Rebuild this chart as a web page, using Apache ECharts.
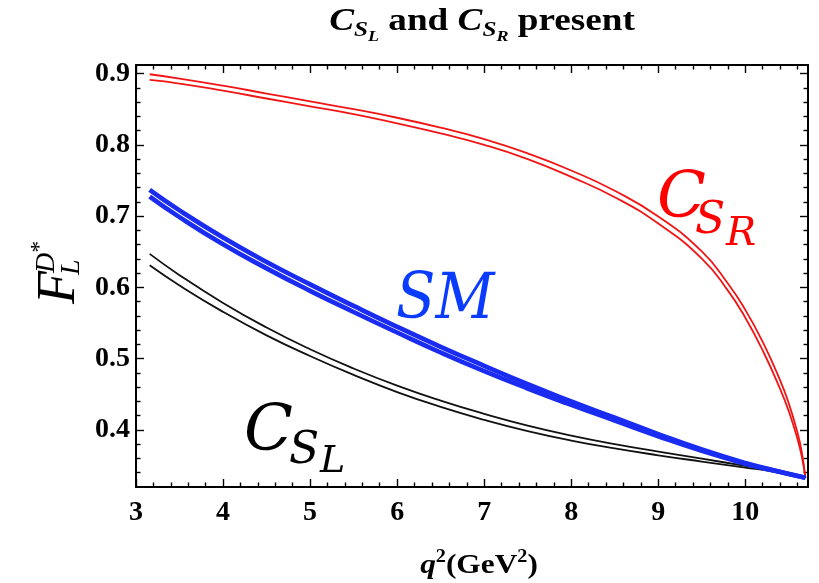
<!DOCTYPE html>
<html>
<head>
<meta charset="utf-8">
<script src="https://cdn.jsdelivr.net/npm/echarts@6/dist/echarts.min.js"></script>
<style>
  html, body { margin: 0; padding: 0; background: #fff; }
  #chart { width: 819px; height: 583px; }
</style>
</head>
<body>
<div id="chart"></div>
<script>
// q^2 sampling points (GeV^2) for the C_SR curves (denser near q^2_max)
const qRed = [3.157, 3.5, 4, 4.5, 5, 5.5, 6, 6.5, 7, 7.5, 8, 8.5, 9, 9.5, 9.8, 10, 10.2, 10.4, 10.5, 10.6, 10.65, 10.69];
const cSRUpper = [0.899, 0.893, 0.883, 0.872, 0.861, 0.850, 0.838, 0.824, 0.808, 0.788, 0.764, 0.7355, 0.6995, 0.6505, 0.6055, 0.5685, 0.5235, 0.4695, 0.437, 0.396, 0.368, 0.333];
const cSRLower = [0.891, 0.886, 0.876, 0.865, 0.854, 0.843, 0.830, 0.816, 0.800, 0.780, 0.755, 0.7265, 0.6895, 0.6405, 0.5955, 0.5575, 0.5115, 0.4575, 0.426, 0.387, 0.362, 0.333];

// q^2 sampling points for the C_SL and SM curves
const qGrid = [3.157, 3.5, 4, 4.5, 5, 5.5, 6, 6.5, 7, 7.5, 8, 8.5, 9, 9.5, 10, 10.3, 10.69];
const cSLUpper = [0.647, 0.6172, 0.5782, 0.5437, 0.5132, 0.4862, 0.4622, 0.4412, 0.4227, 0.4062, 0.3922, 0.3802, 0.3697, 0.3597, 0.3497, 0.3434, 0.333];
const cSLLower = [0.631, 0.6027, 0.5657, 0.5327, 0.5037, 0.4772, 0.4532, 0.4324, 0.4142, 0.3984, 0.3852, 0.3742, 0.3645, 0.3557, 0.3472, 0.3419, 0.333];
const smUpper = [0.7368, 0.7080, 0.6700, 0.6357, 0.6042, 0.5740, 0.5447, 0.5167, 0.4900, 0.4642, 0.4402, 0.4172, 0.3942, 0.3727, 0.3537, 0.3442, 0.333];
const smLower = [0.7273, 0.6985, 0.6605, 0.6267, 0.5952, 0.5655, 0.5367, 0.5087, 0.4825, 0.4582, 0.4352, 0.4132, 0.3912, 0.3707, 0.3527, 0.3437, 0.333];

// axis ticks
const xMajorTicks = [3, 4, 5, 6, 7, 8, 9, 10];
const yMajorTicks = [0.4, 0.5, 0.6, 0.7, 0.8, 0.9];
const X_MIN = 3, X_MAX = 10.72, Y_MIN = 0.32, Y_MAX = 0.912;

const xMinorTicks = [];
for (let i = 16; i <= 53; i++) { if (i % 5 !== 0) xMinorTicks.push(+(i * 0.2).toFixed(2)); }
const yMinorTicks = [];
for (let i = 17; i <= 45; i++) { if (i % 5 !== 0) yMinorTicks.push(+(i * 0.02).toFixed(2)); }

const SERIF = "'Liberation Serif', 'Times New Roman', serif";
const MATH = "'DejaVu Serif', serif";

const zip = (xs, ys) => xs.map((x, i) => [x, ys[i]]);

function lineSeries(name, xs, ys, color, width, z) {
  return {
    name, type: 'line', data: zip(xs, ys), xAxisIndex: 0, yAxisIndex: 0,
    smooth: 0.5, symbol: 'none', silent: true,
    lineStyle: { color, width }, z
  };
}

function xAxisDef(position, ticks, len, withLine, withLabels) {
  return {
    type: 'value', position, min: X_MIN, max: X_MAX,
    axisLine: { show: withLine, onZero: false, lineStyle: { color: '#000', width: 2 } },
    axisTick: { show: true, inside: true, length: len, customValues: ticks, lineStyle: { color: '#000', width: 1.4 } },
    axisLabel: withLabels
      ? { show: true, customValues: ticks, margin: 12, color: '#000', fontFamily: SERIF, fontWeight: 'bold', fontSize: 28,
          formatter: v => String(Math.round(v)) }
      : { show: false },
    splitLine: { show: false }
  };
}
function yAxisDef(position, ticks, len, withLine, withLabels) {
  return {
    type: 'value', position, min: Y_MIN, max: Y_MAX,
    axisLine: { show: withLine, onZero: false, lineStyle: { color: '#000', width: 2 } },
    axisTick: { show: true, inside: true, length: len, customValues: ticks, lineStyle: { color: '#000', width: 1.4 } },
    axisLabel: withLabels
      ? { show: true, customValues: ticks, margin: 6, color: '#000', fontFamily: SERIF, fontWeight: 'bold', fontSize: 28,
          formatter: v => v.toFixed(1) }
      : { show: false },
    splitLine: { show: false }
  };
}

// ---- text runs with sub/superscripts, laid out from measured widths ----
const mctx = document.createElement('canvas').getContext('2d');
const fontOf = p => `${p.style || 'normal'} ${p.weight || 'normal'} ${p.size}px ${p.family}`;
const widthOf = p => { mctx.font = fontOf(p); return mctx.measureText(p.t).width; };

function textEl(p, x, baseline) {
  return {
    type: 'text', x, y: baseline + (p.dy || 0) - 0.34 * p.size, silent: true,
    style: { text: p.t, font: fontOf(p), fill: p.color || '#000', textAlign: 'left',
             textVerticalAlign: 'middle', verticalAlign: 'middle' }
  };
}
// a horizontally centred run, optionally widened with scaleX
function centredRun(pieces, cx, baseline, scaleX) {
  const ws = pieces.map(p => widthOf(p));
  const total = ws.reduce((a, b) => a + b, 0);
  let x = -total / 2;
  const children = pieces.map((p, i) => { const el = textEl(p, x, baseline); x += ws[i]; return el; });
  return { type: 'group', x: cx, y: 0, scaleX: scaleX || 1, silent: true, children };
}

const B = { family: SERIF, weight: 'bold' };
const titleRun = centredRun([
  { ...B, t: 'C', size: 31, style: 'italic' },
  { ...B, t: 'S', size: 21, style: 'italic', dy: 5 },
  { ...B, t: 'L', size: 15, style: 'italic', dy: 9 },
  { ...B, t: ' and ', size: 31 },
  { ...B, t: 'C', size: 31, style: 'italic' },
  { ...B, t: 'S', size: 21, style: 'italic', dy: 5 },
  { ...B, t: 'R', size: 15, style: 'italic', dy: 9 },
  { ...B, t: ' present', size: 31 }
], 482, 33, 1.2);

const xNameRun = centredRun([
  { ...B, t: 'q', size: 28, style: 'italic' },
  { ...B, t: '2', size: 18, dy: -12 },
  { ...B, t: '(GeV', size: 28 },
  { ...B, t: '2', size: 18, dy: -12 },
  { ...B, t: ')', size: 28 }
], 479, 575, 1.12);

// y-axis name F_L^{D*}, written horizontally then rotated
const fP = { family: SERIF, t: 'F', size: 54, style: 'italic' };
const wF = widthOf(fP);
const dP = { family: SERIF, t: 'D', size: 28, style: 'italic', dy: -22 };
const yNameGroup = {
  type: 'group', x: 78, y: 304, rotation: Math.PI / 2, silent: true,
  children: [
    textEl(fP, 0, 0),
    textEl({ family: SERIF, t: 'L', size: 28, style: 'italic', dy: 3 }, wF - 4, 0),
    textEl(dP, wF - 2, 0),
    textEl({ family: SERIF, t: '*', size: 24, dy: -30 }, wF - 2 + widthOf(dP), 0)
  ]
};

// curve labels
const M = { family: MATH, style: 'italic' };
const curveLabels = [
  textEl({ ...M, t: 'C', size: 64, color: '#ff0000' }, 657, 222),
  textEl({ ...M, t: 'S', size: 44, color: '#ff0000' }, 695, 237),
  textEl({ ...M, t: 'R', size: 40, color: '#ff0000' }, 726, 248),
  {
    type: 'group', x: 396, y: 0, scaleX: 0.9, silent: true,
    children: [textEl({ ...M, t: 'SM', size: 64, color: '#0a3cff' }, 0, 323)]
  },
  textEl({ ...M, t: 'C', size: 64, color: '#000' }, 244, 455),
  textEl({ ...M, t: 'S', size: 44, color: '#000' }, 289, 467),
  textEl({ ...M, t: 'L', size: 38, color: '#000' }, 320, 475)
];

const chart = echarts.init(document.getElementById('chart'), null, { renderer: 'canvas' });
chart.setOption({
  animation: false,
  backgroundColor: '#fff',
  grid: { left: 136, right: 11, top: 65, bottom: 96 },
  xAxis: [
    xAxisDef('bottom', xMajorTicks, 8, true, true),
    xAxisDef('bottom', xMinorTicks, 4.5, false, false),
    xAxisDef('top', xMajorTicks, 8, true, false),
    xAxisDef('top', xMinorTicks, 4.5, false, false)
  ],
  yAxis: [
    yAxisDef('left', yMajorTicks, 8, true, true),
    yAxisDef('left', yMinorTicks, 4.5, false, false),
    yAxisDef('right', yMajorTicks, 8, true, false),
    yAxisDef('right', yMinorTicks, 4.5, false, false)
  ],
  series: [
    lineSeries('C_SR upper', qRed, cSRUpper, '#f01616', 1.8, 2),
    lineSeries('C_SR lower', qRed, cSRLower, '#f01616', 1.8, 2),
    lineSeries('C_SL upper', qGrid, cSLUpper, '#111', 1.8, 3),
    lineSeries('C_SL lower', qGrid, cSLLower, '#111', 1.8, 3),
    lineSeries('SM upper', qGrid, smUpper, '#1a2cf2', 4.6, 4),
    lineSeries('SM lower', qGrid, smLower, '#1a2cf2', 4.6, 4)
  ],
  graphic: [titleRun, xNameRun, yNameGroup, ...curveLabels]
});
</script>
</body>
</html>
